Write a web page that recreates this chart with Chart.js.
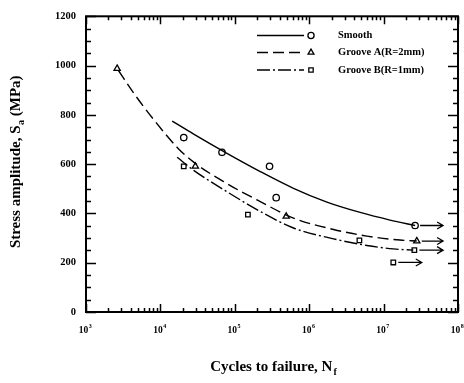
<!DOCTYPE html>
<html>
<head>
<meta charset="utf-8">
<script src="https://cdn.jsdelivr.net/npm/chart.js@4.4.1/dist/chart.umd.min.js"></script>
<style>
  html, body { margin: 0; padding: 0; background: #fff; }
  #wrap { width: 464px; height: 383px; }
</style>
</head>
<body>
<div id="wrap"><canvas id="sn-chart"></canvas></div>
<script>
// ---- values ----
const decadeTicks = [1e3, 1e4, 1e5, 1e6, 1e7, 1e8];
const stressTicks = [0, 200, 400, 600, 800, 1000, 1200];
const seriesNames = ['Smooth', 'Groove A(R=2mm)', 'Groove B(R=1mm)'];

// test results (markers)
const smoothN = [2.06e4, 6.73e4, 2.93e5, 3.6e5, 2.65e7];
const smoothS = [708, 648, 591, 464, 351];
const grooveAN = [2.62e3, 2.95e4, 4.91e5, 2.79e7];
const grooveAS = [988, 591, 388, 288];
const grooveBN = [2.06e4, 1.5e5, 4.73e6, 1.35e7, 2.59e7];
const grooveBS = [591, 395, 291, 201, 251];

// fitted curves
const smoothFitN = [1.44e4, 2.8e4, 7.85e4, 2.2e5, 6.15e5, 1.73e6, 4.84e6, 1.22e7, 2.65e7];
const smoothFitS = [775, 722, 644, 570, 502, 446, 404, 373, 351];
const grooveAFitN = [2.73e3, 4.38e3, 8.13e3, 1.68e4, 2.8e4, 7.85e4, 2.2e5, 6.15e5, 2.12e6, 5.94e6, 1.66e7, 2.79e7];
const grooveAFitS = [980, 888, 781, 668, 608, 521, 448, 381, 335, 308, 292, 288];
const grooveBFitN = [1.68e4, 2.8e4, 7.85e4, 2.2e5, 6.15e5, 2.12e6, 5.94e6, 1.35e7, 2.51e7];
const grooveBFitS = [628, 575, 488, 408, 341, 297, 270, 256, 251];

// run-outs (arrows)
const runoutFromN = [2.65e7, 2.79e7, 2.59e7, 1.35e7];
const runoutToN = [6.3e7, 6.3e7, 6.3e7, 3.26e7];
const runoutS = [351, 288, 251, 201];

const INK = '#000';
const SERIF = "'Liberation Serif', 'Times New Roman', serif";
const dashA = [11, 5];
const dashB = [13, 3, 2, 3];
const lineStyles = [[], dashA, dashB];
const markerStyles = ['circle', 'triangle', 'rect'];

const toXY = (xs, ys) => xs.map((v, i) => ({ x: v, y: ys[i] }));

function curve(xs, ys, dash) {
    return {
        type: 'line',
        data: toXY(xs, ys),
        borderColor: INK,
        borderWidth: 1.4,
        borderDash: dash,
        pointRadius: 0,
        fill: false,
        cubicInterpolationMode: 'monotone'
    };
}

function markers(xs, ys, style) {
    return {
        type: 'scatter',
        data: toXY(xs, ys),
        pointStyle: style,
        pointRadius: style === 'triangle' ? 3.6 : 3.2,
        pointBorderColor: INK,
        pointBackgroundColor: '#fff',
        pointBorderWidth: 1.3,
        showLine: false
    };
}

// frame, inward ticks, x labels, arrows, legend, axis titles
const decorPlugin = {
    id: 'decor',
    afterDatasetsDraw(chart) {
        const { ctx, chartArea: a, scales: { x, y } } = chart;
        ctx.save();
        ctx.strokeStyle = INK;
        ctx.fillStyle = INK;

        // run-out arrows
        ctx.lineWidth = 1.3;
        runoutS.forEach((s, i) => {
            const x0 = x.getPixelForValue(runoutFromN[i]) + 5;
            const x1 = x.getPixelForValue(runoutToN[i]);
            const py = y.getPixelForValue(s);
            ctx.beginPath();
            ctx.moveTo(x0, py); ctx.lineTo(x1, py);
            ctx.moveTo(x1 - 6, py - 3.5); ctx.lineTo(x1, py); ctx.lineTo(x1 - 6, py + 3.5);
            ctx.stroke();
        });

        // frame
        ctx.lineWidth = 2;
        ctx.strokeRect(a.left, a.top, a.right - a.left, a.bottom - a.top);

        // x ticks (log, inward, top and bottom)
        ctx.lineWidth = 1.5;
        ctx.beginPath();
        decadeTicks.forEach((base, d) => {
            for (let k = 1; k <= 9; k++) {
                if (d === decadeTicks.length - 1 && k > 1) break;
                const px = Math.round(x.getPixelForValue(base * k)) + 0.5;
                const len = k === 1 ? 8 : 4;
                ctx.moveTo(px, a.bottom); ctx.lineTo(px, a.bottom - len);
                ctx.moveTo(px, a.top); ctx.lineTo(px, a.top + len);
            }
        });
        // y ticks every 50, inward, left and right
        for (let v = 0; v <= 1200; v += 50) {
            const py = Math.round(y.getPixelForValue(v)) + 0.5;
            const len = v % 200 === 0 ? 10 : 5;
            ctx.moveTo(a.left, py); ctx.lineTo(a.left + len, py);
            ctx.moveTo(a.right, py); ctx.lineTo(a.right - len, py);
        }
        ctx.stroke();

        // x tick labels 10^n
        ctx.textBaseline = 'alphabetic';
        decadeTicks.forEach(v => {
            const e = Math.round(Math.log10(v));
            ctx.font = 'bold 9.5px ' + SERIF;
            const w1 = ctx.measureText('10').width;
            ctx.font = 'bold 6px ' + SERIF;
            const w2 = ctx.measureText(String(e)).width;
            const left = x.getPixelForValue(v) - (w1 + w2) / 2 - 1;
            ctx.font = 'bold 9.5px ' + SERIF;
            ctx.textAlign = 'left';
            ctx.fillText('10', left, 333);
            ctx.font = 'bold 6px ' + SERIF;
            ctx.fillText(String(e), left + w1 + 0.5, 328);
        });

        // legend
        const rowY = [35.5, 52.5, 70];
        rowY.forEach((ry, i) => {
            ctx.lineWidth = 1.5;
            ctx.setLineDash(lineStyles[i]);
            ctx.beginPath();
            ctx.moveTo(257, ry); ctx.lineTo(304, ry);
            ctx.stroke();
            ctx.setLineDash([]);
            ctx.lineWidth = 1.3;
            ctx.fillStyle = '#fff';
            Chart.helpers.drawPoint(ctx, {
                pointStyle: markerStyles[i],
                radius: i === 1 ? 3.4 : 3.1,
                borderWidth: 1.3
            }, 311, ry);
            ctx.fillStyle = INK;
            ctx.font = 'bold 10.5px ' + SERIF;
            ctx.textAlign = 'left';
            ctx.textBaseline = 'middle';
            ctx.fillText(seriesNames[i], 338, ry);
        });

        // x title with subscript f
        ctx.textBaseline = 'alphabetic';
        ctx.font = 'bold 15px ' + SERIF;
        const xt = 'Cycles to failure, N';
        const xw = ctx.measureText(xt).width;
        ctx.font = 'bold 10px ' + SERIF;
        const fw = ctx.measureText('f').width;
        const xl = (a.left + a.right) / 2 + 1 - (xw + fw) / 2;
        ctx.font = 'bold 15px ' + SERIF;
        ctx.fillText(xt, xl, 371);
        ctx.font = 'bold 10px ' + SERIF;
        ctx.fillText('f', xl + xw + 1, 375);

        // y title with subscript a
        ctx.translate(20, 162);
        ctx.rotate(-Math.PI / 2);
        const p1 = 'Stress amplitude, S', p3 = ' (MPa)';
        ctx.font = 'bold 15px ' + SERIF;
        const w1 = ctx.measureText(p1).width, w3 = ctx.measureText(p3).width;
        ctx.font = 'bold 10px ' + SERIF;
        const w2 = ctx.measureText('a').width;
        const tx = -(w1 + w2 + w3) / 2;
        ctx.font = 'bold 15px ' + SERIF;
        ctx.fillText(p1, tx, 0);
        ctx.font = 'bold 10px ' + SERIF;
        ctx.fillText('a', tx + w1 + 0.5, 4);
        ctx.font = 'bold 15px ' + SERIF;
        ctx.fillText(p3, tx + w1 + w2 + 0.5, 0);

        ctx.restore();
    }
};

const ctx = document.getElementById('sn-chart').getContext('2d');
new Chart(ctx, {
    data: {
        datasets: [
            curve(smoothFitN, smoothFitS, []),
            curve(grooveAFitN, grooveAFitS, dashA),
            curve(grooveBFitN, grooveBFitS, dashB),
            markers(smoothN, smoothS, 'circle'),
            markers(grooveAN, grooveAS, 'triangle'),
            markers(grooveBN, grooveBS, 'rect')
        ]
    },
    options: {
        responsive: true,
        maintainAspectRatio: false,
        animation: false,
        layout: { padding: { top: 12, right: 6, left: 0, bottom: 0 } },
        scales: {
            x: {
                type: 'logarithmic',
                position: 'bottom',
                min: decadeTicks[0],
                max: decadeTicks[decadeTicks.length - 1],
                afterBuildTicks: s => { s.ticks = decadeTicks.map(v => ({ value: v })); },
                afterFit: s => { s.height = 71; },
                grid: { display: false, drawTicks: false },
                border: { display: false },
                ticks: { display: false }
            },
            y: {
                type: 'linear',
                min: 0,
                max: 1200,
                afterBuildTicks: s => { s.ticks = stressTicks.map(v => ({ value: v })); },
                afterFit: s => { s.width = 86; },
                grid: { display: false, drawTicks: false },
                border: { display: false },
                ticks: {
                    color: INK,
                    padding: 10,
                    font: { family: SERIF, size: 10.5, weight: 'bold' },
                    callback: v => String(v)
                }
            }
        },
        plugins: {
            legend: { display: false },
            tooltip: { enabled: false }
        }
    },
    plugins: [decorPlugin]
});
</script>
</body>
</html>
